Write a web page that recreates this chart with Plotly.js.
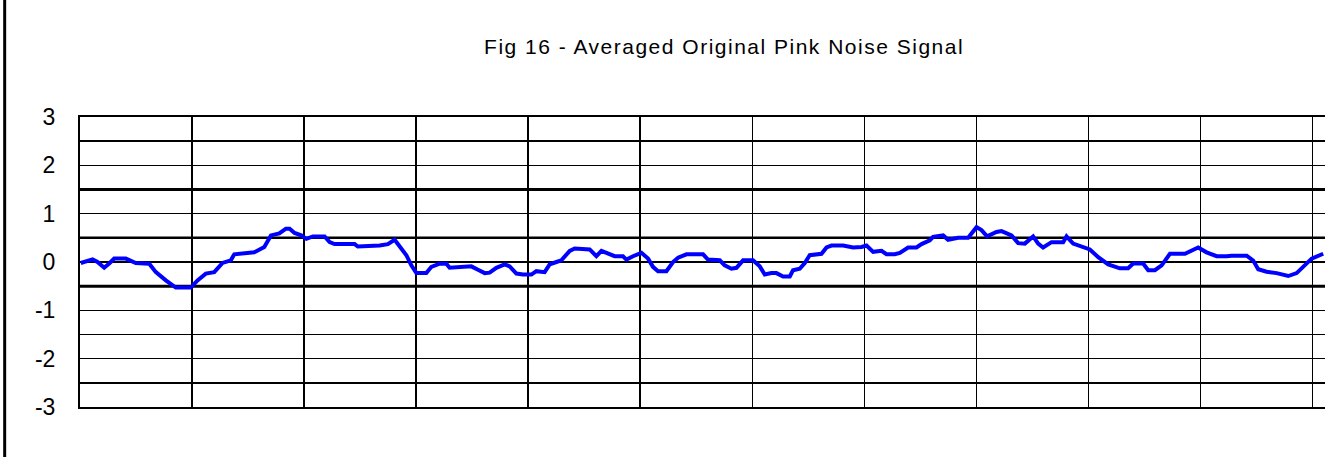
<!DOCTYPE html>
<html>
<head>
<meta charset="utf-8">
<script src="https://cdn.plot.ly/plotly-3.0.1.min.js"></script>
<style>
  html, body { margin: 0; padding: 0; background: #ffffff; }
  #chart { width: 1325px; height: 457px; }
  .gtitle { letter-spacing: 1.5px; }
</style>
</head>
<body>
<div id="chart"></div>
<script>
// Time position (in grid divisions) and averaged signal value
const timePos = [0.007,0.112,0.156,0.216,0.261,0.305,0.409,0.498,0.618,0.677,0.766,0.855,0.989,1.049,1.123,1.198,1.272,1.346,1.377,1.555,1.645,1.704,1.779,1.838,
  1.871,1.915,1.975,2.020,2.079,2.183,2.228,2.272,2.451,2.480,2.674,2.748,2.808,2.853,2.913,2.957,3.002,3.091,3.136,3.210,3.270,3.299,3.448,3.493,3.552,3.612,3.656,
  3.716,3.790,3.835,3.895,3.954,4.029,4.073,4.147,4.192,4.252,4.296,4.371,4.415,4.549,4.609,4.654,4.698,4.772,4.846,4.877,4.936,5.011,5.070,5.114,5.159,5.234,5.293,5.338,5.413,
  5.561,5.605,5.710,5.754,5.814,5.859,5.918,6.007,6.067,6.112,6.171,6.216,6.275,6.335,6.364,6.424,6.469,6.513,6.618,6.663,6.707,6.811,6.900,6.975,7.020,7.079,7.154,7.198,7.272,
  7.317,7.391,7.466,7.511,7.585,7.614,7.704,7.748,7.838,7.927,8.002,8.046,8.096,8.180,8.225,8.314,8.373,8.433,8.507,8.552,8.596,8.671,8.775,8.805,8.864,8.939,9.013,9.088,
  9.177,9.281,9.355,9.400,9.489,9.534,9.594,9.654,9.728,9.862,9.921,9.980,10.055,10.145,10.234,10.278,10.413,10.471,10.516,10.591,10.680,10.784,10.859,10.918,10.993,11.096];

const signalVals = [-0.02,0.055,0,-0.117,-0.03,0.07,0.07,-0.02,-0.035,-0.21,-0.38,-0.53,-0.53,-0.38,-0.24,-0.21,-0.02,0.035,0.16,0.2,0.31,0.55,0.59,0.69,
  0.69,0.6,0.55,0.48,0.53,0.53,0.41,0.37,0.37,0.32,0.34,0.37,0.46,0.31,0.14,-0.07,-0.23,-0.23,-0.1,-0.035,-0.035,-0.12,-0.1,-0.09,-0.16,-0.23,-0.22,
  -0.12,-0.05,-0.09,-0.24,-0.26,-0.26,-0.19,-0.21,-0.05,0,0.035,0.23,0.28,0.26,0.12,0.23,0.19,0.12,0.12,0.05,0.12,0.19,0.07,-0.1,-0.19,-0.19,0,0.09,0.16,
  0.16,0.05,0.035,-0.07,-0.14,-0.12,0.035,0.035,-0.09,-0.26,-0.23,-0.23,-0.3,-0.3,-0.17,-0.14,-0.02,0.14,0.17,0.3,0.34,0.34,0.3,0.31,0.34,0.21,0.23,0.16,0.16,
  0.19,0.3,0.3,0.37,0.45,0.52,0.55,0.46,0.5,0.5,0.72,0.66,0.53,0.62,0.64,0.55,0.39,0.38,0.53,0.38,0.3,0.41,0.41,0.53,0.38,0.31,0.26,0.1,
  -0.05,-0.13,-0.13,-0.03,-0.03,-0.17,-0.17,-0.07,0.17,0.17,0.23,0.3,0.2,0.12,0.12,0.13,0.13,0.03,-0.15,-0.2,-0.23,-0.29,-0.23,-0.1,0.07,0.17];

const yTickVals = [-3, -2, -1, 0, 1, 2, 3];
const yTickText = ['-3', '-2', '-1', '0', '1', '2', '3'];
const heavyLines = [1.5, 0.5, -0.5];
const heavyWidths = [3, 2.5, 3];
const chartTitle = 'Fig 16 - Averaged Original Pink Noise Signal';

const trace = {
  x: timePos,
  y: signalVals,
  type: 'scatter',
  mode: 'lines',
  line: { color: '#0000ff', width: 4 },
  hoverinfo: 'skip'
};

const shapes = heavyLines.map((v, i) => ({
  type: 'line', xref: 'paper', x0: 0, x1: 1, yref: 'y', y0: v, y1: v,
  line: { color: '#000000', width: heavyWidths[i] }, layer: 'below'
}));
// left frame bar of the original page
shapes.push({
  type: 'line', xref: 'paper', yref: 'paper',
  x0: -0.0605, x1: -0.0605, y0: -0.2, y1: 1.45,
  line: { color: '#000000', width: 3 }
});

const layout = {
  width: 1325,
  height: 457,
  margin: { l: 80, r: 0, t: 117, b: 50, pad: 0 },
  paper_bgcolor: '#ffffff',
  plot_bgcolor: '#ffffff',
  showlegend: false,
  title: {
    text: chartTitle,
    font: { family: 'Liberation Sans, Arial, sans-serif', size: 21, color: '#000000' },
    xref: 'container', x: 0.5465, xanchor: 'center',
    yref: 'container', y: 0.898, yanchor: 'middle'
  },
  xaxis: {
    range: [0, 11.112],
    dtick: 1, tick0: 0,
    showgrid: true, gridcolor: '#000000', gridwidth: 1.5,
    showticklabels: false, ticks: '',
    zeroline: false,
    showline: true, linecolor: '#000000', linewidth: 2, mirror: true,
    fixedrange: true
  },
  yaxis: {
    range: [-3, 3],
    tickmode: 'array', tickvals: yTickVals, ticktext: yTickText,
    showgrid: true, gridcolor: '#000000', gridwidth: 1.5,
    minor: { dtick: 0.5, tick0: 0, showgrid: true, gridcolor: '#000000', gridwidth: 1.5, ticks: '' },
    ticks: '', ticklabelstandoff: 18,
    tickfont: { family: 'Liberation Sans Narrow, Liberation Sans, Arial, sans-serif', size: 23, color: '#000000' },
    zeroline: false,
    showline: true, linecolor: '#000000', linewidth: 2, mirror: false,
    fixedrange: true
  },
  shapes: shapes
};

Plotly.newPlot('chart', [trace], layout, { staticPlot: true, displayModeBar: false });
</script>
</body>
</html>
